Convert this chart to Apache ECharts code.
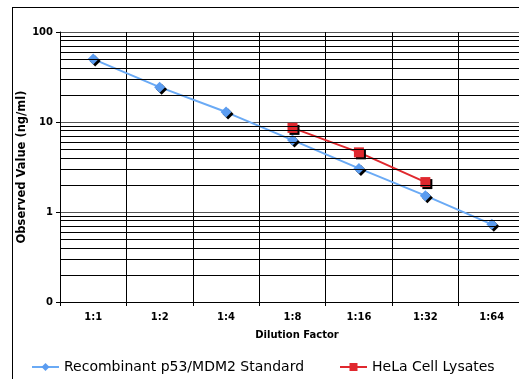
<!DOCTYPE html>
<html>
<head>
<meta charset="UTF-8">
<script src="https://cdn.jsdelivr.net/npm/echarts@6/dist/echarts.min.js"></script>
<style>
html,body{margin:0;padding:0;background:#fff;overflow:hidden;width:519px;height:379px;position:relative;}
#chart{position:absolute;left:0;top:0;width:525px;height:379px;}
#frame{position:absolute;left:12px;top:7px;width:900px;height:900px;border-left:1.5px solid #000;border-top:1.5px solid #000;pointer-events:none;}
</style>
</head>
<body>
<div id="chart"></div>
<div id="frame"></div>
<script>

// dilution categories
const dilutions = ["1:1","1:2","1:4","1:8","1:16","1:32","1:64"]

// observed values (ng/ml)
const standardValues = [50,24.4,12.9,6.3,3.05,1.52,0.73]
const helaValues = [null,null,null,8.6,4.6,2.15,null]

// log axis ticks and labels
const yTicks = [0.1,1,10,100]
const yTickLabels = ["0","1","10","100"]
const minorGrid = [0.2,0.3,0.4,0.5,0.6,0.7,0.8,0.9,2,3,4,5,6,7,8,9,20,30,40,50,60,70,80,90]

const font = "DejaVu Sans"

const chart = echarts.init(document.getElementById("chart"))

const shadow = {
 shadowColor:"#000",
 shadowBlur:0,
 shadowOffsetX:2,
 shadowOffsetY:2
}

chart.setOption({
 animation:false,
 grid:{left:60,right:0,top:32,bottom:77},
 legend:[
  {
   left:31,top:360,padding:0,
   itemWidth:27,itemHeight:10,
   textStyle:{fontFamily:font,fontSize:14,color:"#000"},
   data:["Recombinant p53/MDM2 Standard"]
  },
  {
   left:339,top:360,padding:0,
   itemWidth:27,itemHeight:10,
   textStyle:{fontFamily:font,fontSize:14,color:"#000"},
   data:["HeLa Cell Lysates"]
  }
 ],
 xAxis:{
  type:"category",
  data:dilutions,
  boundaryGap:true,
  name:"Dilution Factor",
  nameLocation:"middle",
  nameGap:28,
  nameTextStyle:{fontFamily:font,fontWeight:"bold",fontSize:10,color:"#000",padding:[0,0,0,9]},
  axisLine:{lineStyle:{color:"#000",width:1}},
  axisTick:{show:true,length:4,lineStyle:{color:"#000"}},
  axisLabel:{fontFamily:font,fontWeight:"bold",fontSize:10,color:"#000",margin:10},
  splitLine:{show:true,lineStyle:{color:"#000",width:1}}
 },
 yAxis:{
  type:"log",
  logBase:10,
  min:0.1,
  max:100,
  name:"Observed Value (ng/ml)",
  nameLocation:"middle",
  nameGap:32,
  nameMoveOverlap:false,
  nameTextStyle:{fontFamily:font,fontWeight:"bold",fontSize:11.5,color:"#000"},
  axisLine:{show:true,lineStyle:{color:"#000",width:1}},
  axisTick:{show:true,length:4,lineStyle:{color:"#000"}},
  axisLabel:{
   fontFamily:font,fontWeight:"bold",fontSize:10,color:"#000",margin:7,
   formatter:v=>{
    const i = yTicks.findIndex(t=>Math.abs(Math.log10(t)-Math.log10(v))<1e-6)
    return i>=0 ? yTickLabels[i] : ""
   }
  },
  splitLine:{show:true,lineStyle:{color:"#555",width:1}}
 },
 series:[
  {
   name:"Recombinant p53/MDM2 Standard",
   type:"line",
   data:standardValues,
   symbol:"diamond",
   symbolSize:11,
   lineStyle:{color:"#6aaaf5",width:2},
   itemStyle:Object.assign({color:"#5b9cf0"},shadow),
   markLine:{
    silent:true,
    symbol:"none",
    animation:false,
    label:{show:false},
    lineStyle:{color:"#000",width:1,type:"solid"},
    data:minorGrid.map(v=>({yAxis:v}))
   },
   z:3
  },
  {
   name:"HeLa Cell Lysates",
   type:"line",
   data:helaValues,
   connectNulls:false,
   symbol:"rect",
   symbolSize:10,
   lineStyle:{color:"#e0282e",width:2},
   itemStyle:Object.assign({color:"#e0282e"},shadow),
   z:4
  }
 ]
})

</script>
</body>
</html>
